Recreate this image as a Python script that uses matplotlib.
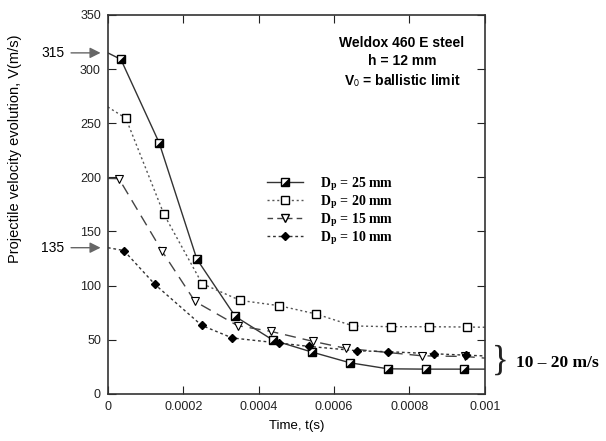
import matplotlib
matplotlib.use("Agg")
from matplotlib import pyplot as plt

plt.rcParams["font.family"] = ["Liberation Sans", "DejaVu Sans"]
plt.rcParams["mathtext.fontset"] = "stix"

# line start values at t = 0
t0 = 0.0
v0_25, v0_20, v0_15, v0_10 = 315, 265, 199, 135

t_25 = [0.0000345, 0.000136, 0.000236, 0.000338, 0.000438, 0.000541, 0.000642, 0.000743, 0.000843, 0.000944]
v_25 = [309, 232, 124.5, 71.5, 49.6, 38.6, 28.7, 23.1, 22.8, 22.8]

t_20 = [0.0000477, 0.000149, 0.00025, 0.000351, 0.000453, 0.000552, 0.000651, 0.00075, 0.000852, 0.000953]
v_20 = [254.6, 165.7, 101.8, 86.3, 81.5, 73.8, 62.7, 62, 62, 61.7]

t_15 = [0.0000292, 0.000144, 0.000231, 0.000344, 0.000432, 0.000545, 0.000633, 0.000834, 0.000947]
v_15 = [198.8, 131.7, 85.4, 63, 57.7, 48.4, 41.9, 35.1, 34.5]

t_10 = [0.0000424, 0.000125, 0.000249, 0.00033, 0.000454, 0.000534, 0.00066, 0.000743, 0.000866, 0.000949]
v_10 = [132.4, 101, 63.2, 51.6, 46.9, 43.8, 39.8, 38.9, 37, 35.7]

# line end values at t = 0.001
t_end = 0.001
v_end_25, v_end_20, v_end_15, v_end_10 = 22.8, 61.5, 33, 35

labels = [r"D$_\mathbf{p}$ = 25 mm", r"D$_\mathbf{p}$ = 20 mm",
          r"D$_\mathbf{p}$ = 15 mm", r"D$_\mathbf{p}$ = 10 mm"]

fig = plt.figure(figsize=(6.06, 4.41), dpi=100)
ax = fig.add_axes([0.178, 0.107, 0.622, 0.859])

# diagonal half-filled square marker (lower right black)
tri = [(1, -1), (1, 1), (-1, -1), (1, -1)]

ax.plot([t0] + t_25 + [t_end], [v0_25] + v_25 + [v_end_25], color="#333333", lw=1.0, ls="-")
ax.plot([t0] + t_20 + [t_end], [v0_20] + v_20 + [v_end_20], color="#555555", lw=1.0, ls=(0, (1.5, 2)))
ax.plot([t0] + t_15 + [t_end], [v0_15] + v_15 + [v_end_15], color="#444444", lw=1.0, ls=(0, (8, 5)))
ax.plot([t0] + t_10 + [t_end], [v0_10] + v_10 + [v_end_10], color="#333333", lw=1.0, ls=(0, (2, 2)))

ax.plot(t_25, v_25, ls="none", marker="s", ms=6, mfc="white", mec="black", mew=1.0)
ax.plot(t_25, v_25, ls="none", marker=tri, ms=5, mfc="black", mec="black", mew=0.5)
ax.plot(t_20, v_20, ls="none", marker="s", ms=6, mfc="white", mec="black", mew=1.0)
ax.plot(t_15, v_15, ls="none", marker="v", ms=6, mfc="white", mec="black", mew=0.8)
ax.plot(t_10, v_10, ls="none", marker="D", ms=4, mfc="black", mec="black")

# legend proxies
h25a, = ax.plot([], [], color="#333333", lw=1.0, marker="s", ms=6, mfc="white", mec="black")
h25b, = ax.plot([], [], ls="none", marker=tri, ms=5, mfc="black", mec="black", mew=0.5)
h20, = ax.plot([], [], color="#555555", lw=1.0, ls=(0, (1.5, 2)), marker="s", ms=6, mfc="white", mec="black")
h15, = ax.plot([], [], color="#444444", lw=1.0, ls=(0, (4, 3)), marker="v", ms=6, mfc="white", mec="black")
h10, = ax.plot([], [], color="#333333", lw=1.0, ls=(0, (2, 2)), marker="D", ms=4, mfc="black", mec="black")
ax.legend([(h25a, h25b), h20, h15, h10], labels, loc="upper left", bbox_to_anchor=(0.39, 0.61),
          frameon=False, handlelength=2.6, handletextpad=1.2, labelspacing=0.02,
          prop={"family": "Liberation Serif", "weight": "bold", "size": 10})

ax.set_xlim(0, 0.001)
ax.set_ylim(0, 350)
ax.set_xticks([0, 0.0002, 0.0004, 0.0006, 0.0008, 0.001])
ax.set_xticklabels(["0", "0.0002", "0.0004", "0.0006", "0.0008", "0.001"])
ax.set_yticks(range(0, 351, 50))
ax.tick_params(direction="in", top=True, right=True, length=6, labelsize=9, pad=5, colors="#222222")
for s in ax.spines.values():
    s.set_color("#333333")
    s.set_linewidth(1.2)

ax.set_xlabel("Time, t(s)", fontsize=9.5, labelpad=5)
ax.set_ylabel("Projectile velocity evolution, V(m/s)", fontsize=10.5)
ax.yaxis.set_label_coords(-0.228, 0.646)

ax.text(0.78, 0.945, "Weldox 460 E steel\nh = 12 mm\nV$_\\mathsf{0}$ = ballistic limit",
        transform=ax.transAxes, ha="center", va="top", fontsize=10, fontweight="bold",
        linespacing=1.35)

# arrows marking start values
for v, lab in [(315, "315"), (135, "135")]:
    ax.annotate("", xy=(-0.000012, v), xytext=(-0.000105, v),
                arrowprops=dict(arrowstyle="-|>", color="#666666", lw=1.0, mutation_scale=16),
                annotation_clip=False)
    ax.text(-0.000115, v, lab, ha="right", va="center", fontsize=10)

fig.text(0.811, 0.180, "}", fontsize=25, family="Liberation Serif", ha="left", va="center",
         color="#222222")
fig.text(0.852, 0.178, "10 – 20 m/s", fontsize=12.5, family="Liberation Serif",
         fontweight="bold", ha="left", va="center")

fig.savefig("out.png", dpi=100)
